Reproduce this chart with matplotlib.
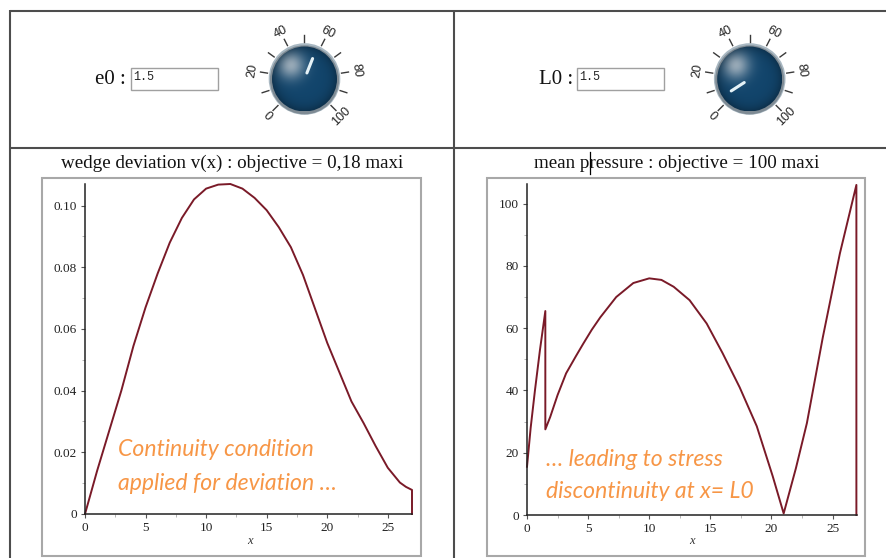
import numpy as np
import matplotlib
matplotlib.use("Agg")
import matplotlib.pyplot as plt
from matplotlib.patches import Rectangle, Circle

# ---------------- data ----------------
dev_x = [0, 0.5, 1, 2, 3, 4, 5, 6, 7, 8, 9, 10, 11, 12, 13, 14, 15, 16, 17, 18,
         19, 20, 21, 22, 23, 24, 25, 26, 26.5, 27, 27]
dev_y = [0, 0.007, 0.014, 0.027, 0.040, 0.0545, 0.067, 0.078, 0.088, 0.096, 0.102,
         0.1055, 0.1068, 0.107, 0.1055, 0.1025, 0.0985, 0.093, 0.0865, 0.0775,
         0.0665, 0.0555, 0.046, 0.0365, 0.0295, 0.022, 0.015, 0.0102, 0.0088,
         0.0078, 0]

pres_x = [0, 0.3, 0.65, 1.06, 1.5, 1.5, 1.9, 2.5, 3.2, 4.0, 4.6, 5.3, 6.0, 7.3, 8.7,
          10.0, 11.0, 12.0, 13.3, 14.7, 16.0, 17.4, 18.8, 20.1, 21.0, 22.0, 22.9,
          24.2, 25.6, 26.95, 26.95]
pres_y = [15.5, 28, 40, 53, 65.5, 27.5, 31.5, 38.5, 45.5, 51, 55, 59.5, 63.5, 70,
          74.5, 76, 75.5, 73.3, 69, 61.5, 52, 41, 28.5, 12.5, 0.5, 15, 29.5, 57,
          84, 106, 0]

dev_yticks = [0, 0.02, 0.04, 0.06, 0.08, 0.10]
dev_ylabels = ['0', '0.02', '0.04', '0.06', '0.08', '0.10']
pres_yticks = [0, 20, 40, 60, 80, 100]
pres_ylabels = ['0', '20', '40', '60', '80', '100']
x_ticks = [0, 5, 10, 15, 20, 25]
x_labels = ['0', '5', '10', '15', '20', '25']

knob_labels = [0, 20, 40, 60, 80, 100]
knob_minor = [10, 30, 50, 70, 90]
knob_e0_value = 58
knob_L0_value = 4.5

title_left = "wedge deviation v(x) : objective = 0,18 maxi"
title_right = "mean pressure : objective = 100 maxi"
note_left = ["Continuity condition", "applied for deviation \u2026"]
note_right = ["\u2026 leading to stress", "discontinuity at x= L0"]

# ---------------- figure ----------------
W, H = 886, 558
fig = plt.figure(figsize=(W / 100, H / 100), dpi=100)
fig.patch.set_facecolor('white')

ov = fig.add_axes([0, 0, 1, 1], zorder=0)
ov.set_xlim(0, W)
ov.set_ylim(H, 0)
ov.axis('off')

SERIF = 'Liberation Serif'
SANS = 'Liberation Sans'
MONO = 'Liberation Mono'

# table lines
lc = '#4d4d4d'
ov.plot([10, W], [10.5, 10.5], color=lc, lw=1.5, solid_capstyle='butt')
ov.plot([10, W], [147.5, 147.5], color=lc, lw=1.5, solid_capstyle='butt')
ov.plot([10, 10], [10, H], color=lc, lw=1.5, solid_capstyle='butt')
ov.plot([454.5, 454.5], [10, H], color=lc, lw=1.5, solid_capstyle='butt')

# plot frames
ov.add_patch(Rectangle((42, 178), 379, 378, fill=False, ec='#a8a8a8', lw=1.5))
ov.add_patch(Rectangle((487, 178), 378, 378, fill=False, ec='#a8a8a8', lw=1.5))

# titles
ov.text(232, 163, title_left, ha='center', va='center', fontsize=13.7,
        family=SERIF, color='#111111')
tr = ov.text(676.5, 163, title_right, ha='center', va='center', fontsize=13.7,
             family=SERIF, color='#111111')
# text cursor between "p" and "ressure": measured from the rendered title
fig.canvas.draw()
rend = fig.canvas.get_renderer()
bb = tr.get_window_extent(rend)
tmp = ov.text(0, 0, "mean p", fontsize=13.7, family=SERIF)
wpx = tmp.get_window_extent(rend).width
tmp.remove()
cur_x = ov.transData.inverted().transform((bb.x0 + wpx, 0))[0] + 0.5
ov.plot([cur_x, cur_x], [152, 174], color='black', lw=0.9)

# labels and input boxes
ov.text(126, 80, "e0 :", ha='right', va='center', fontsize=15, family=SERIF, color='#111111')
ov.text(573, 80, "L0 :", ha='right', va='center', fontsize=15, family=SERIF, color='#111111')
for bx in (131, 577):
    ov.add_patch(Rectangle((bx, 68), 87, 22, fc='white', ec='#a0a0a0', lw=1.0))
    ov.text(bx + 2.5, 77.5, "1.5", ha='left', va='center', fontsize=8.5, family=MONO,
            color='#222222')


def knob_angle(v):
    return np.deg2rad(225 - 270 * v / 100.0)


def draw_knob(cx, cy, value):
    R = 32.5
    # halo
    ov.add_patch(Circle((cx, cy), 35.8, fc='#a9b8c2', ec='none', zorder=2))
    ov.add_patch(Circle((cx, cy + 0.8), 34.5, fc='#7f8b94', ec='none', zorder=2))
    # body gradient
    n = 200
    xs = np.linspace(-R, R, n)
    X, Y = np.meshgrid(xs, xs)  # Y positive = downward (screen)
    hx, hy = -0.42 * R, -0.42 * R
    d = np.hypot(X - hx, Y - hy)
    dark = np.array([0x12, 0x45, 0x6c]) / 255.0
    light = np.array([0x9a, 0xac, 0xba]) / 255.0
    w = np.exp(-(d / (0.42 * R)) ** 2)[..., None]
    img = dark * (1 - w) + light * w
    r = np.hypot(X, Y) / R
    shade = (1 - 0.28 * np.clip(r, 0, 1) ** 5)[..., None]
    img = np.clip(img * shade, 0, 1)
    im = ov.imshow(img, extent=(cx - R, cx + R, cy + R, cy - R), origin='upper',
                   zorder=3, interpolation='bilinear')
    clip = Circle((cx, cy), R, transform=ov.transData)
    im.set_clip_path(clip)
    ov.set_xlim(0, W)
    ov.set_ylim(H, 0)
    # ticks
    for v in knob_labels + knob_minor:
        a = knob_angle(v)
        r0, r1 = 37.5, 44.5
        ov.plot([cx + r0 * np.cos(a), cx + r1 * np.cos(a)],
                [cy - r0 * np.sin(a), cy - r1 * np.sin(a)],
                color='#3a3a3a', lw=1.0, zorder=3)
    for v in knob_labels:
        a = knob_angle(v)
        deg = np.rad2deg(a)
        rot = deg - 90 if 0 < deg < 180 else deg + 90
        rl = 52.5
        ov.text(cx + rl * np.cos(a), cy - rl * np.sin(a), str(v), rotation=rot,
                rotation_mode='anchor', ha='center', va='center', fontsize=9,
                family=SANS, color='#222222', zorder=4)
    # pointer
    a = knob_angle(value)
    ov.plot([cx + 6.5 * np.cos(a), cx + 22 * np.cos(a)],
            [cy - 6.5 * np.sin(a), cy - 22 * np.sin(a)],
            color='#e6f2f7', lw=2.2, solid_capstyle='round', zorder=5)


draw_knob(304.5, 79, knob_e0_value)
draw_knob(749.7, 79, knob_L0_value)


def frac(x0, y0, x1, y1):
    return [x0 / W, 1 - y1 / H, (x1 - x0) / W, (y1 - y0) / H]


def style_axes(ax, yticks, ylabels, ylim, xlabel_x):
    ax.patch.set_alpha(0)
    for s in ('top', 'right'):
        ax.spines[s].set_visible(False)
    for s in ('left', 'bottom'):
        ax.spines[s].set_color('#222222')
        ax.spines[s].set_linewidth(1.1)
    ax.set_xticks(x_ticks)
    ax.set_xticklabels(x_labels)
    ax.set_yticks(yticks)
    ax.set_yticklabels(ylabels)
    ax.set_xticks([t + 2.5 for t in x_ticks], minor=True)
    ax.set_yticks([t + (yticks[1] - yticks[0]) / 2 for t in yticks], minor=True)
    ax.tick_params(which='major', length=3, width=0.8, color='#555555', pad=3,
                   labelsize=9.5, labelcolor='#222222')
    ax.tick_params(which='minor', length=2, width=0.6, color='#aaaaaa')
    for lab in ax.get_xticklabels() + ax.get_yticklabels():
        lab.set_family(SERIF)
    ax.set_xlim(0, 27)
    ax.set_ylim(0, ylim)
    ov.text(xlabel_x, 541, "x", ha='center', va='center', fontsize=9,
            family=SERIF, style='italic', color='#333333')


ax1 = fig.add_axes(frac(85, 184, 412, 514), zorder=2)
ax1.plot(dev_x, dev_y, color='#7a1a28', lw=1.4, clip_on=False)
style_axes(ax1, dev_yticks, dev_ylabels, 0.107, 250)

ax2 = fig.add_axes(frac(527, 184, 857, 515), zorder=2)
ax2.plot(pres_x, pres_y, color='#7a1a28', lw=1.4, clip_on=False)
style_axes(ax2, pres_yticks, pres_ylabels, 106.3, 692)

# annotations on top layer
top = fig.add_axes([0, 0, 1, 1], zorder=5)
top.set_xlim(0, W)
top.set_ylim(H, 0)
top.axis('off')
orange = '#F79646'
NOTE = ['Lato', 'DejaVu Sans']
FS = 16.6
top.text(118, 450, note_left[0], ha='left', va='center', fontsize=FS, family=NOTE,
         style='italic', color=orange)
top.text(118, 483, note_left[1], ha='left', va='center', fontsize=FS, family=NOTE,
         style='italic', color=orange)
top.text(546, 460, note_right[0], ha='left', va='center', fontsize=FS, family=NOTE,
         style='italic', color=orange)
t2 = top.text(546, 492, note_right[1], ha='left', va='center', fontsize=FS,
              family=NOTE, style='italic', color=orange)
t2.set_clip_on(True)
t2.set_clip_path(Rectangle((480, 170), 400, 330.5, transform=top.transData))

fig.savefig('out.png', dpi=100, facecolor='white')
